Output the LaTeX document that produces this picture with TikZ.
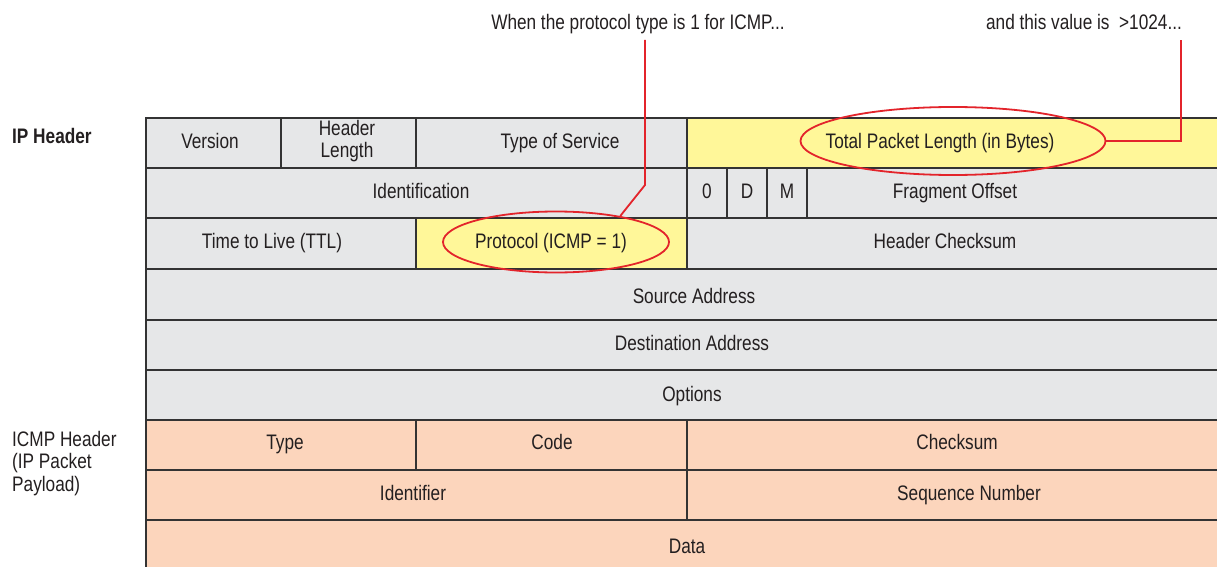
\documentclass[tikz,border=0pt]{standalone}
\usepackage{fontspec}
\setmainfont[FakeStretch=0.82]{Liberation Sans}
\usetikzlibrary{shapes.geometric}
\definecolor{cgray}{HTML}{E6E7E8}
\definecolor{cyel}{HTML}{FFF799}
\definecolor{csal}{HTML}{FCD5BC}
\definecolor{cline}{HTML}{333333}
\definecolor{cred}{HTML}{E3242B}
\definecolor{ctext}{HTML}{231F20}
\tikzset{
  cellbox/.style={draw=cline, line width=1.4pt},
  txt/.style={inner sep=0pt, font=\fontsize{21}{23}\selectfont, text=ctext, text height=15pt, text depth=0pt},
  txtml/.style={inner sep=0pt, font=\fontsize{21}{23}\selectfont, text=ctext},
  hl/.style={draw=cred, line width=1.8pt, ellipse, inner sep=0pt},
  callout/.style={draw=cred, line width=1.8pt},
}
\newcommand{\cellrect}[6]{% name, x0,y0,x1,y1, fill
  \path[cellbox, fill=#6] (#2,#3) rectangle (#4,#5);
  \coordinate (#1) at ({(#2+#4)/2},{(#3+#5)/2});
}
\begin{document}
\begin{tikzpicture}[x=1pt,y=-1pt]
\useasboundingbox (0,0) rectangle (1217,567);
\fill[white] (0,0) rectangle (1217,567);
% Row 1
\cellrect{c11}{146}{118}{281}{168}{cgray}
\cellrect{c12}{281}{118}{416}{168}{cgray}
\cellrect{c13}{416}{118}{687}{168}{cgray}
\cellrect{c14}{687}{118}{1225}{168}{cyel}
% Row 2
\cellrect{c21}{146}{168}{687}{218}{cgray}
\cellrect{c22}{687}{168}{727}{218}{cgray}
\cellrect{c23}{727}{168}{767}{218}{cgray}
\cellrect{c24}{767}{168}{807}{218}{cgray}
\cellrect{c25}{807}{168}{1225}{218}{cgray}
% Row 3
\cellrect{c31}{146}{218}{416}{269}{cgray}
\cellrect{c32}{416}{218}{687}{269}{cyel}
\cellrect{c33}{687}{218}{1225}{269}{cgray}
% Rows 4-6
\cellrect{c4}{146}{269}{1225}{320}{cgray}
\cellrect{c5}{146}{320}{1225}{370}{cgray}
\cellrect{c6}{146}{370}{1225}{420}{cgray}
% ICMP rows
\cellrect{c71}{146}{420}{416}{470}{csal}
\cellrect{c72}{416}{420}{687}{470}{csal}
\cellrect{c73}{687}{420}{1225}{470}{csal}
\cellrect{c81}{146}{470}{687}{520}{csal}
\cellrect{c82}{687}{470}{1225}{520}{csal}
\cellrect{c9}{146}{520}{1225}{575}{csal}

% Texts
\node[txt] (tver) at (210,141) {Version};
\node[txtml, align=center] (thl) at (347,141) {Header\\[-1pt]Length};
\node[txt] (ttos) at (560,141) {Type of Service};
\node[txt] (ttpl) at (940,141) {Total Packet Length (in Bytes)};
\node[txt] (tid) at (421,191) {Identification};
\node[txt] (t0) at (707,191) {0};
\node[txt] (tD) at (747,191) {D};
\node[txt] (tM) at (787,191) {M};
\node[txt] (tfo) at (955,191) {Fragment Offset};
\node[txt] (tttl) at (272,241) {Time to Live (TTL)};
\node[txt] (tproto) at (551,241) {Protocol (ICMP = 1)};
\node[txt] (thc) at (945,241) {Header Checksum};
\node[txt] (tsrc) at (694,296) {Source Address};
\node[txt] (tdst) at (692,343) {Destination Address};
\node[txt] (topt) at (692,394) {Options};
\node[txt] (ttype) at (285,442) {Type};
\node[txt] (tcode) at (552,442) {Code};
\node[txt] (tcs) at (957,442) {Checksum};
\node[txt] (tident) at (413,493) {Identifier};
\node[txt] (tseq) at (969,493) {Sequence Number};
\node[txt] (tdata) at (687,546) {Data};

% Left labels
\node[txt, anchor=west, font=\fontsize{21}{23}\selectfont\bfseries] (lip) at (12,136) {IP Header};
\node[txtml, anchor=north west, align=left, font=\fontsize{21}{22.5}\selectfont] (licmp) at (12,431) {ICMP Header\\(IP Packet\\Payload)};

% Top annotations
\node[txt] (ann1) at (638,22) {When the protocol type is 1 for ICMP...};
\node[txt] (ann2) at (1084,22) {and this value is \ \textgreater1024...};

% Highlight ellipses
\node[hl, minimum width=226pt, minimum height=61pt] (eproto) at (556,242) {};
\node[hl, minimum width=305pt, minimum height=68pt] (etpl) at (953,141) {};

% Callout lines
\coordinate (a1top) at (645,40);
\coordinate (a1knee) at (645,185);
\coordinate (a2top) at (1181,40);
\coordinate (a2knee) at (1181,141);
\draw[callout] (eproto.22) -- (a1knee) -- (a1top);
\draw[callout] (etpl.east) -- (a2knee) -- (a2top);
\end{tikzpicture}
\end{document}
